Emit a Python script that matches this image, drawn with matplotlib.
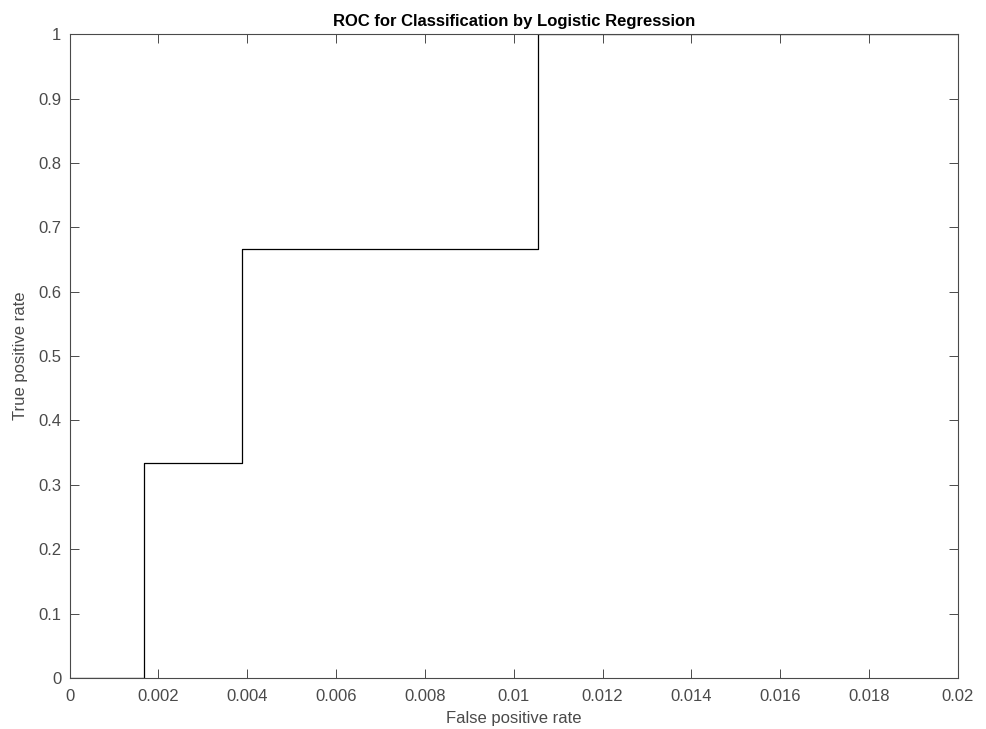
import numpy as np
import matplotlib.pyplot as plt

# ROC curve points (step shaped)
fpr = [0, 0.00167, 0.00167, 0.00389, 0.00389, 0.01055, 0.01055, 0.02]
tpr = [0, 0, 0.3333, 0.3333, 0.6667, 0.6667, 1.0, 1.0]

xticks = np.arange(0, 0.0201, 0.002)
xtick_labels = ['0', '0.002', '0.004', '0.006', '0.008', '0.01', '0.012', '0.014', '0.016', '0.018', '0.02']
yticks = np.arange(0, 1.01, 0.1)
ytick_labels = ['0', '0.1', '0.2', '0.3', '0.4', '0.5', '0.6', '0.7', '0.8', '0.9', '1']

plt.rcParams['font.family'] = ['Liberation Sans', 'DejaVu Sans']
grey = '#4a4a4a'

fig = plt.figure(figsize=(9.86, 7.29), dpi=100)
ax = fig.add_axes([0.0705, 0.070, 0.9011, 0.883])
ax.plot(fpr, tpr, color='black', lw=0.9)

ax.set_xlim(0, 0.02)
ax.set_ylim(0, 1)
ax.set_xticks(xticks)
ax.set_xticklabels(xtick_labels)
ax.set_yticks(yticks)
ax.set_yticklabels(ytick_labels)
ax.tick_params(direction='in', length=6.5, width=0.7, color=grey, labelcolor=grey,
               labelsize=12, top=True, right=True)
ax.tick_params(axis='x', pad=8)
ax.tick_params(axis='y', pad=6)
for s in ax.spines.values():
    s.set_color(grey)
    s.set_linewidth(0.8)

ax.set_xlabel('False positive rate', fontsize=12, color=grey, labelpad=5)
ax.set_ylabel('True positive rate', fontsize=12, color=grey, labelpad=7)
ax.set_title('ROC for Classification by Logistic Regression', fontsize=12,
             fontweight='bold', color='black', pad=6)

fig.savefig('out.png', dpi=100)
